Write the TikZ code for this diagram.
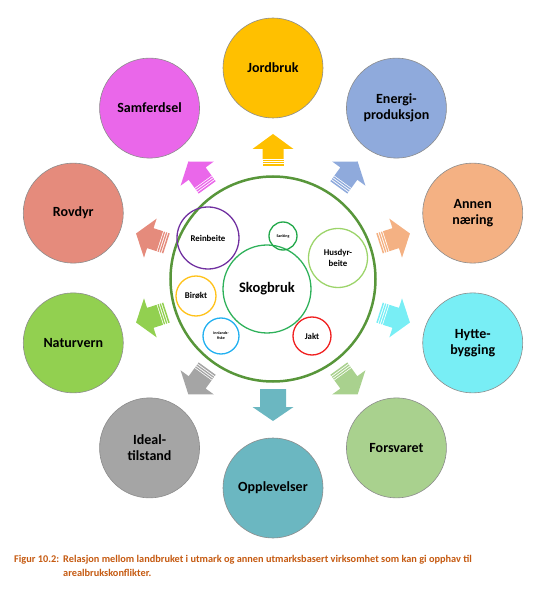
\documentclass[tikz,border=0pt]{standalone}
\usepackage{fontspec}
\setmainfont{Carlito}
\definecolor{cJord}{HTML}{FFC000}
\definecolor{cEner}{HTML}{8FAADC}
\definecolor{cAnnen}{HTML}{F4B183}
\definecolor{cHytte}{HTML}{78EEF5}
\definecolor{cFors}{HTML}{A9D18E}
\definecolor{cOpp}{HTML}{6BB7C1}
\definecolor{cIdeal}{HTML}{A5A5A5}
\definecolor{cNatur}{HTML}{92D050}
\definecolor{cRov}{HTML}{E58B7C}
\definecolor{cSamf}{HTML}{EA67EA}
\definecolor{cBig}{HTML}{58963A}
\definecolor{cSkog}{HTML}{2EB15A}
\definecolor{cRein}{HTML}{7030A0}
\definecolor{cSank}{HTML}{22A84A}
\definecolor{cHusd}{HTML}{9CD46A}
\definecolor{cBir}{HTML}{FFC21A}
\definecolor{cFisk}{HTML}{22B0F0}
\definecolor{cJakt}{HTML}{F02020}
\definecolor{cCap}{HTML}{C55A11}
\definecolor{cEdge}{HTML}{8C8C8C}
\tikzset{
  outer/.style={circle, minimum size=100pt, inner sep=0pt, fill=#1, draw=cEdge, line width=0.6pt,
    align=center, font=\fontsize{14}{16}\selectfont\bfseries},
  inner/.style={circle, inner sep=0pt, draw=#1, line width=1.3pt, align=center,
    font=\fontsize{8.8}{10.5}\selectfont\bfseries},
  captext/.style={anchor=base west, inner sep=0pt, text=cCap, font=\fontsize{10.3}{12}\selectfont\bfseries},
  pics/stripearrow/.style={code={
    \fill[#1] (-9,-10.5) -- (1,-10.5) -- (1,-20.5) -- (16,0) -- (1,20.5) -- (1,10.5) -- (-9,10.5) -- cycle;
    \fill[#1] (-11.2,-10.5) rectangle (-9.9,10.5);
    \fill[#1] (-13.5,-10.5) rectangle (-12.2,10.5);
    \fill[#1] (-16,-10.5) rectangle (-14.5,10.5);
  }},
  pics/plainarrow/.style={code={
    \fill[#1] (-16,-13) -- (2,-13) -- (2,-20.5) -- (16,0) -- (2,20.5) -- (2,13) -- (-16,13) -- cycle;
  }}
}
\begin{document}
\begin{tikzpicture}[x=1pt,y=1pt]
\useasboundingbox (-273,278) rectangle (278,-313);
% outer circles
\node[outer=cJord]  (jord)  at (90:210)  {Jordbruk};
\node[outer=cEner]  (ener)  at (54:210)  {Energi-\\produksjon};
\node[outer=cAnnen] (annen) at (18:210)  {Annen\\næring};
\node[outer=cHytte] (hytte) at (-18:210) {Hytte-\\bygging};
\node[outer=cFors]  (fors)  at (-54:210) {Forsvaret};
\node[outer=cOpp]   (opp)   at (-90:210) {Opplevelser};
\node[outer=cIdeal] (ideal) at (-126:210) {Ideal-\\tilstand};
\node[outer=cNatur] (natur) at (-162:210) {Naturvern};
\node[outer=cRov]   (rov)   at (162:210) {Rovdyr};
\node[outer=cSamf]  (samf)  at (126:210) {Samferdsel};
% arrows
\pic[rotate=90]   at (90:128)   {stripearrow=cJord};
\pic[rotate=54]   at (54:128)   {stripearrow=cEner};
\pic[rotate=18]   at (18:128)   {stripearrow=cAnnen};
\pic[rotate=-18]  at (-18:128)  {stripearrow=cHytte};
\pic[rotate=-54]  at (-54:128)  {stripearrow=cFors};
\pic[rotate=-90]  at (-90:127)  {plainarrow=cOpp};
\pic[rotate=-126] at (-126:128) {stripearrow=cIdeal};
\pic[rotate=-162] at (-162:128) {stripearrow=cNatur};
\pic[rotate=162]  at (162:128)  {stripearrow=cRov};
\pic[rotate=126]  at (126:128)  {stripearrow=cSamf};
% central group
\node[circle, minimum size=205pt, inner sep=0pt, draw=cBig, line width=2.5pt] (big) at (0,-1) {};
\node[inner=cSkog, minimum size=88pt, font=\fontsize{14.5}{16}\selectfont\bfseries] (skog) at (-6,-11) {Skogbruk};
\node[inner=cRein, minimum size=62pt] (rein) at (-65,40) {Reinbeite};
\node[inner=cSank, minimum size=28pt, font=\fontsize{4}{5}\selectfont\bfseries] (sank) at (10,42) {Sanking};
\node[inner=cHusd, minimum size=59pt] (husd) at (65,20) {Husdyr-\\beite};
\node[inner=cBir, minimum size=40pt] (bir) at (-77,-18) {Birøkt};
\node[inner=cFisk, minimum size=36pt, font=\fontsize{4}{5}\selectfont\bfseries] (fisk) at (-52,-58) {Innlands-\\fiske};
\node[inner=cJakt, minimum size=38pt] (jakt) at (39,-58) {Jakt};
% caption
\node[captext] (fig) at (-259,-284) {Figur 10.2:};
\node[captext] (cap1) at (-210,-284) {Relasjon mellom landbruket i utmark og annen utmarksbasert virksomhet som kan gi opphav til};
\node[captext] (cap2) at (-210,-298) {arealbrukskonflikter.};
\end{tikzpicture}
\end{document}
